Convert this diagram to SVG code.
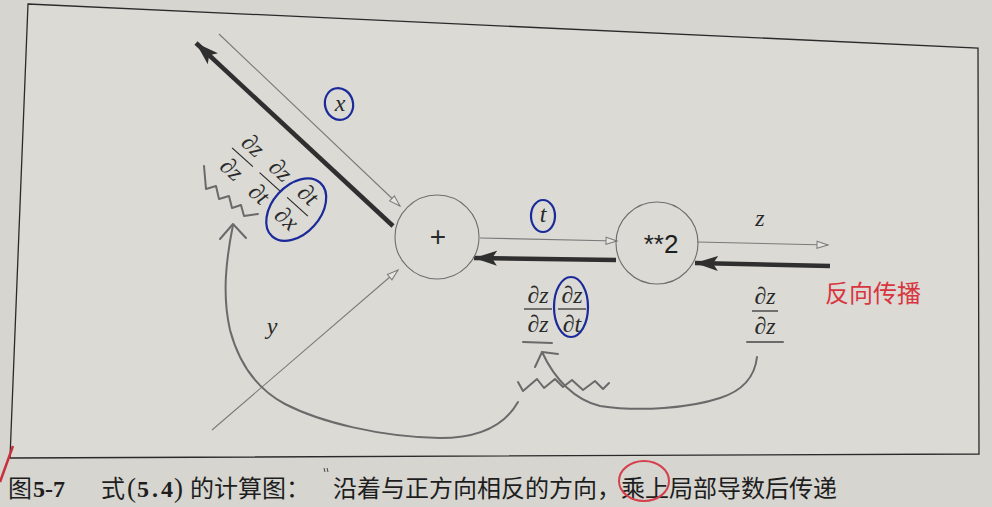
<svg xmlns="http://www.w3.org/2000/svg" width="992" height="507" viewBox="0 0 992 507">
<style>
.node{fill:none;stroke:#6e6e6e;stroke-width:1.1}
.thin{stroke:#7a7a7a;stroke-width:1.1;fill:none}
.thick{stroke:#2f2f2f;stroke-width:4.5;fill:none}
.hand{stroke:#6a6a6a;stroke-width:2;fill:none;stroke-linecap:round;stroke-linejoin:round}
.m{font-family:"Liberation Serif","DejaVu Serif",serif;font-size:24px;fill:#2a2a2a}
.it{font-style:italic}
.fl{stroke:#2a2a2a;stroke-width:1.2}
.blue{fill:none;stroke:#1b2a9a;stroke-width:2.2}
.red{fill:none;stroke:#d4404c;stroke-width:2}
.cap{font-family:"Noto Sans CJK SC","Noto Sans CJK JP",sans-serif;font-size:24px;fill:#1e1e1e}
.ser{font-family:"Liberation Serif","DejaVu Serif",serif}
</style>
<defs>
<marker id="open" markerUnits="userSpaceOnUse" markerWidth="14" markerHeight="10" refX="12" refY="5" orient="auto">
<path d="M1,1.5 L12,5 L1,8.5 Z" fill="#e6e5e1" stroke="#7a7a7a" stroke-width="1"/>
</marker>
<marker id="solid" markerUnits="userSpaceOnUse" markerWidth="26" markerHeight="18" refX="23" refY="9" orient="auto">
<path d="M0,1.5 L23,9 L0,16.5 L5,9 Z" fill="#2f2f2f"/>
</marker>
</defs>
<rect x="0" y="0" width="992" height="507" fill="#d6d5d0"/>
<polygon points="28,4 978,48 979,454 10,458" fill="#dbdad5" stroke="#2a2a2a" stroke-width="1.3"/>
<path d="M0,482 L13,446" stroke="#c9303c" stroke-width="2.5" fill="none"/>

<g id="connectors">
<line class="thin" x1="219" y1="34" x2="400" y2="206" marker-end="url(#open)"/>
<line class="thick" x1="393" y1="226" x2="196" y2="43" marker-end="url(#solid)"/>
<line class="thin" x1="212" y1="430" x2="398" y2="270" marker-end="url(#open)"/>
<line class="thin" x1="480" y1="238" x2="617" y2="241" marker-end="url(#open)"/>
<line class="thick" x1="616" y1="260" x2="474" y2="258" marker-end="url(#solid)"/>
<line class="thin" x1="697" y1="242" x2="828" y2="245" marker-end="url(#open)"/>
<line class="thick" x1="830" y1="266" x2="695" y2="263" marker-end="url(#solid)"/>
</g>

<g id="node-add">
<circle class="node" cx="437" cy="237" r="42"/>
<text x="438" y="246" text-anchor="middle" font-family="Liberation Sans, sans-serif" font-size="28" fill="#2a2a2a">+</text>
</g>
<g id="node-square">
<circle class="node" cx="657" cy="243" r="41"/>
<text x="661" y="253" text-anchor="middle" font-family="Liberation Sans, sans-serif" font-size="26" fill="#1e1e1e">**2</text>
</g>

<g id="labels">
<text class="m it" x="340" y="111" text-anchor="middle" font-size="22">x</text>
<ellipse class="blue" cx="339" cy="104" rx="14" ry="16" transform="rotate(-15 339 104)"/>
<text class="m it" x="543" y="222" text-anchor="middle" font-size="22">t</text>
<ellipse class="blue" cx="543" cy="216" rx="12" ry="16"/>
<text class="m it" x="760" y="226" text-anchor="middle" font-size="22">z</text>
<text class="m it" x="272" y="334" text-anchor="middle" font-size="22">y</text>

<g transform="translate(270,182) rotate(42)">
<text class="m" x="-37" y="-8" text-anchor="middle">∂<tspan font-style="italic">z</tspan></text>
<line class="fl" x1="-51" y1="0" x2="-23" y2="0"/>
<text class="m" x="-37" y="24" text-anchor="middle">∂<tspan font-style="italic">z</tspan></text>
<text class="m" x="0" y="-8" text-anchor="middle">∂<tspan font-style="italic">z</tspan></text>
<line class="fl" x1="-14" y1="0" x2="14" y2="0"/>
<text class="m" x="0" y="24" text-anchor="middle">∂<tspan font-style="italic">t</tspan></text>
<text class="m" x="37" y="-8" text-anchor="middle">∂<tspan font-style="italic">t</tspan></text>
<line class="fl" x1="23" y1="0" x2="51" y2="0"/>
<text class="m" x="37" y="24" text-anchor="middle">∂<tspan font-style="italic">x</tspan></text>
<ellipse class="blue" cx="38" cy="3" rx="24" ry="36"/>
</g>

<g id="frac-bottom">
<text class="m" x="538" y="303" text-anchor="middle">∂<tspan font-style="italic">z</tspan></text>
<line class="fl" x1="524" y1="309" x2="552" y2="309"/>
<text class="m" x="538" y="332" text-anchor="middle">∂<tspan font-style="italic">z</tspan></text>
<text class="m" x="572" y="303" text-anchor="middle">∂<tspan font-style="italic">z</tspan></text>
<line class="fl" x1="558" y1="309" x2="586" y2="309"/>
<text class="m" x="572" y="332" text-anchor="middle">∂<tspan font-style="italic">t</tspan></text>
<ellipse class="blue" cx="571" cy="307" rx="17" ry="30"/>
<text class="m" x="765" y="304" text-anchor="middle">∂<tspan font-style="italic">z</tspan></text>
<line class="fl" x1="752" y1="311" x2="778" y2="311"/>
<text class="m" x="765" y="334" text-anchor="middle">∂<tspan font-style="italic">z</tspan></text>
</g>

<text x="825" y="302" font-family="Noto Sans CJK SC, sans-serif" font-size="24" fill="#d8353f">反向传播</text>
</g>

<g id="annotations">
<path class="hand" d="M523,342 L552,343" stroke="#444" stroke-width="2.2"/>
<path class="hand" d="M747,342 L783,342" stroke="#555" stroke-width="2.2"/>
<path class="hand" d="M518,402 C505,425 480,438 440,438 C380,437 320,422 285,404 C255,388 238,360 230,330 C222,295 226,260 233,225"/>
<path class="hand" d="M220,239 L233,224 L246,238"/>
<path class="hand" d="M757,357 C755,375 745,390 720,398 C690,408 640,412 600,406 C575,400 555,380 542,352"/>
<path class="hand" d="M535,367 L542,352 L558,354"/>
<path class="hand" d="M518,382 L523,391 L537,379 L544,388 L555,379 L563,387 L572,380 L583,390 L595,381 L603,389 L609,383"/>
<path class="hand" d="M204,166 L206,189 L216,186 L219,199 L229,196 L232,208 L241,205 L244,216 L258,214"/>
</g>

<g id="caption">
<text class="cap" x="8" y="497">图<tspan class="ser" font-weight="bold" dx="1">5-7</tspan></text>
<text class="cap" x="101" y="497">式<tspan class="ser" x="127" font-size="27">(</tspan><tspan class="ser" dx="1" font-weight="bold" letter-spacing="3">5.</tspan><tspan class="ser" font-weight="bold">4</tspan><tspan class="ser" dx="1" font-size="27">)</tspan><tspan x="190">的计算图：</tspan></text>
<path d="M324,468 L325,472 M327,468 L328,472" stroke="#444" stroke-width="1" fill="none"/>
<text class="cap" x="333" y="497">沿着与正方向相反的方向，乘上局部导数后传递</text>
<ellipse class="red" cx="644" cy="481" rx="25" ry="20"/>
</g>
</svg>
